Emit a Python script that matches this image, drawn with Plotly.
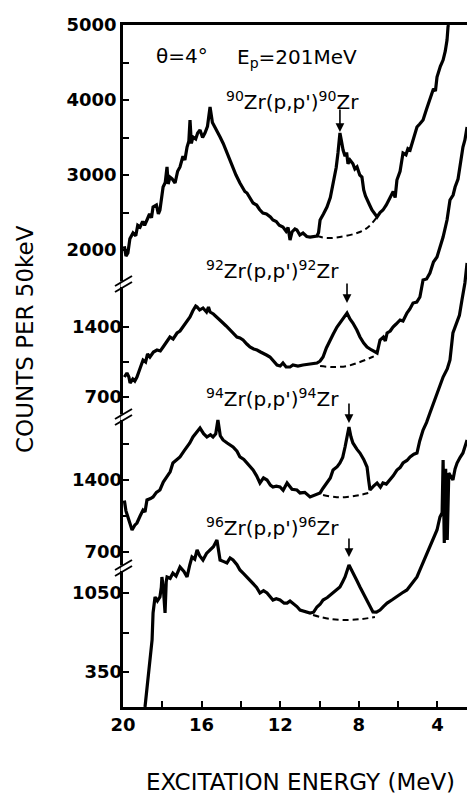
import plotly.graph_objects as go

# ---------------- data (excitation energy in MeV, counts per 50 keV) ----------------
e90 = [19.93, 19.85, 19.75, 19.65, 19.49, 19.35, 19.25, 19.13, 19.00, 18.90, 18.78, 18.65,
       18.55, 18.47, 18.30, 18.20, 18.12, 18.05, 17.96, 17.85, 17.76, 17.70, 17.61, 17.50,
       17.35, 17.22, 17.10, 16.95, 16.85, 16.74, 16.65, 16.59, 16.52, 16.44, 16.30, 16.20,
       16.08, 15.95, 15.83, 15.70, 15.62, 15.57, 15.45, 15.32, 15.20, 15.06, 14.90, 14.71,
       14.55, 14.40, 14.25, 14.05, 13.90, 13.80, 13.69, 13.50, 13.38, 13.20, 13.05, 12.88,
       12.70, 12.50, 12.37, 12.20, 12.05, 11.86, 11.70, 11.60, 11.50, 11.40, 11.25, 11.15,
       11.00, 10.84, 10.65, 10.48, 10.30, 10.13, 10.05, 9.97, 9.80, 9.62, 9.45, 9.31, 9.15,
       9.06, 8.96, 8.88, 8.80, 8.70, 8.62, 8.55, 8.45, 8.30, 8.20, 8.09, 7.95, 7.84, 7.75,
       7.66, 7.58, 7.45, 7.33, 7.20, 7.07, 6.92, 6.77, 6.60, 6.41, 6.25, 6.15, 6.06, 5.90,
       5.75, 5.60, 5.50, 5.39, 5.20, 5.04, 4.90, 4.73, 4.55, 4.38, 4.20, 4.10, 4.02, 3.85,
       3.71, 3.60, 3.51, 3.46, 3.44]
c90 = [2050, 1920, 1960, 2150, 2227, 2190, 2330, 2307, 2380, 2330, 2400, 2480,
       2430, 2573, 2600, 2480, 2533, 2700, 2840, 2900, 3107, 2880, 2973, 2950,
       2893, 3050, 3107, 3250, 3200, 3373, 3450, 3733, 3420, 3507, 3480, 3560,
       3600, 3500, 3560, 3650, 3780, 3907, 3700, 3640, 3580, 3507, 3420, 3293,
       3200, 3107, 3000, 2893, 2830, 2780, 2760, 2680, 2627, 2600, 2540, 2493,
       2480, 2440, 2400, 2380, 2330, 2307, 2250, 2300, 2133, 2240, 2280, 2267,
       2200, 2227, 2180, 2173, 2180, 2187, 2230, 2400, 2480, 2573, 2700, 2893, 3100,
       3293, 3560, 3450, 3333, 3250, 3300, 3150, 3200, 3150, 3080, 3107, 3000, 2973, 2800,
       2720, 2667, 2600, 2533, 2480, 2440, 2500, 2533, 2600, 2707, 2780, 2700, 2933, 3050,
       3293, 3270, 3350, 3333, 3500, 3640, 3680, 3733, 3880, 4000, 4150, 4120, 4307, 4450,
       4533, 4650, 4800, 4973, 5000]
bg90_e = [10.13, 9.62, 8.96, 8.09, 7.58, 7.07]
bg90_c = [2187, 2160, 2173, 2227, 2293, 2440]

e92 = [19.93, 19.80, 19.70, 19.64, 19.50, 19.40, 19.29, 19.15, 18.98, 18.85, 18.75, 18.63,
       18.45, 18.27, 18.10, 17.96, 17.80, 17.61, 17.45, 17.25, 17.10, 16.95, 16.80, 16.59,
       16.45, 16.30, 16.23, 16.10, 15.93, 15.75, 15.65, 15.57, 15.40, 15.22, 15.05, 14.91,
       14.75, 14.55, 14.40, 14.20, 14.05, 13.89, 13.70, 13.54, 13.35, 13.18, 13.00, 12.88,
       12.70, 12.52, 12.35, 12.16, 12.00, 11.86, 11.70, 11.50, 11.35, 11.10, 10.84, 10.50,
       10.13, 9.97, 9.82, 9.65, 9.47, 9.30, 9.11, 8.90, 8.75, 8.60, 8.45, 8.30, 8.10, 7.94,
       7.75, 7.58, 7.35, 7.07, 6.92, 6.75, 6.65, 6.56, 6.40, 6.26, 6.10, 5.90, 5.75, 5.55,
       5.40, 5.24, 5.05, 4.89, 4.73, 4.55, 4.38, 4.20, 4.02, 3.85, 3.71, 3.51, 3.36, 3.20,
       3.10, 2.95, 2.85, 2.70, 2.60, 2.49]
c92 = [900, 940, 900, 840, 880, 860, 900, 980, 1070, 1050, 1130, 1100,
       1150, 1170, 1160, 1200, 1250, 1300, 1280, 1340, 1360, 1400, 1450, 1500,
       1560, 1610, 1600, 1570, 1590, 1550, 1600, 1550, 1530, 1500, 1470, 1440,
       1410, 1370, 1340, 1300, 1290, 1270, 1230, 1200, 1180, 1170, 1150, 1140,
       1120, 1100, 1060, 1020, 1010, 1040, 1000, 1000, 1020, 1010, 1020, 1030,
       1040, 1060, 1100, 1190, 1270, 1330, 1400, 1460, 1510, 1540, 1480, 1440, 1370, 1300,
       1240, 1200, 1170, 1140, 1270, 1300, 1260, 1340, 1360, 1400, 1430, 1470, 1460, 1540,
       1580, 1640, 1650, 1700, 1870, 1880, 1940, 2050, 2100, 2200, 2300, 2470, 2670, 2720,
       2800, 2880, 3000, 3200, 3270, 3400]
bg92_e = [9.97, 9.31, 8.60, 7.94, 7.43, 7.07]
bg92_c = [1010, 1000, 1010, 1050, 1090, 1120]

e94 = [19.93, 19.85, 19.75, 19.62, 19.54, 19.40, 19.29, 19.13, 18.98, 18.88, 18.78, 18.60,
       18.47, 18.30, 18.12, 17.95, 17.76, 17.60, 17.46, 17.30, 17.10, 16.90, 16.74, 16.60,
       16.44, 16.25, 16.08, 15.90, 15.73, 15.55, 15.42, 15.28, 15.17, 15.05, 14.91, 14.70,
       14.55, 14.40, 14.20, 14.05, 13.85, 13.69, 13.50, 13.38, 13.20, 13.03, 12.85, 12.67,
       12.50, 12.37, 12.20, 12.01, 11.85, 11.65, 11.40, 11.15, 10.99, 10.75, 10.48, 10.20,
       9.97, 9.82, 9.62, 9.45, 9.31, 9.10, 8.96, 8.82, 8.70, 8.60, 8.50, 8.40, 8.30, 8.10,
       7.94, 7.75, 7.58, 7.50, 7.43, 7.25, 7.07, 6.90, 6.77, 6.60, 6.41, 6.25, 6.06, 5.90,
       5.75, 5.55, 5.39, 5.20, 5.04, 4.90, 4.73, 4.55, 4.38, 4.20, 4.02, 3.85, 3.71, 3.50,
       3.36, 3.21, 3.00, 2.88, 2.75, 2.60, 2.49]
c94 = [1200, 1100, 1040, 950, 914, 960, 982, 1050, 1108, 1090, 1206, 1220,
       1235, 1280, 1303, 1380, 1429, 1480, 1565, 1590, 1624, 1680, 1721, 1760,
       1818, 1870, 1905, 1850, 1818, 1840, 1818, 1850, 1983, 1830, 1789, 1760,
       1740, 1721, 1680, 1624, 1600, 1565, 1520, 1497, 1440, 1371, 1420, 1400,
       1350, 1332, 1340, 1332, 1300, 1371, 1310, 1303, 1274, 1280, 1235, 1260,
       1274, 1320, 1371, 1420, 1497, 1530, 1565, 1620, 1721, 1830, 1915, 1820, 1760, 1700,
       1662, 1600, 1526, 1400, 1303, 1340, 1371, 1330, 1371, 1360, 1400, 1440, 1497, 1520,
       1565, 1590, 1624, 1650, 1662, 1780, 1886, 1960, 2051, 2150, 2246, 2330, 2401, 2480,
       2566, 2829, 2926, 3000, 3150, 3315, 3509]
bg94_e = [9.82, 9.21, 8.60, 7.94, 7.33]
bg94_c = [1254, 1235, 1235, 1254, 1283]

e96 = [18.88, 18.73, 18.60, 18.52, 18.47, 18.40, 18.37, 18.25, 18.12, 18.05, 18.02, 17.95,
       17.86, 17.80, 17.76, 17.60, 17.46, 17.30, 17.10, 16.90, 16.74, 16.60, 16.49, 16.35,
       16.23, 16.10, 15.93, 15.75, 15.57, 15.40, 15.22, 15.12, 15.06, 14.90, 14.71, 14.55,
       14.40, 14.20, 14.05, 13.85, 13.69, 13.50, 13.38, 13.20, 13.03, 12.85, 12.67, 12.50,
       12.37, 12.20, 12.01, 11.80, 11.65, 11.50, 11.35, 11.15, 10.99, 10.75, 10.48, 10.30,
       10.13, 9.97, 9.82, 9.60, 9.45, 9.31, 9.15, 8.96, 8.82, 8.70, 8.50, 8.40, 8.30, 8.10,
       7.94, 7.75, 7.58, 7.40, 7.28, 7.10, 6.92, 6.75, 6.56, 6.30, 6.06, 5.80, 5.55, 5.30,
       5.04, 4.90, 4.73, 4.55, 4.38, 4.20, 4.02, 3.87, 3.76, 3.71, 3.65, 3.58, 3.50, 3.42,
       3.30, 3.21, 3.10, 3.00, 2.85, 2.70, 2.49]
c96 = [40, 306, 500, 634, 873, 950, 1015, 980, 1015, 1100, 1192, 1100,
       873, 1150, 1192, 1180, 1227, 1200, 1280, 1240, 1192, 1300, 1369, 1350,
       1431, 1380, 1342, 1400, 1431, 1460, 1519, 1400, 1342, 1330, 1316, 1360,
       1342, 1300, 1254, 1220, 1192, 1160, 1139, 1100, 1050, 1070, 1050, 1010,
       988, 1000, 988, 960, 961, 980, 961, 930, 899, 890, 873, 880,
       926, 950, 988, 1010, 1030, 1050, 1070, 1103, 1150, 1192, 1298, 1260, 1227, 1160,
       1103, 1040, 988, 930, 882, 880, 899, 930, 961, 990, 1015, 1050, 1077, 1130,
       1192, 1250, 1316, 1390, 1457, 1530, 1608, 1723, 1760, 2228, 1493, 2150, 1520, 2113,
       2080, 2051, 2150, 2201, 2250, 2290, 2405]
bg96_e = [10.33, 9.47, 8.60, 7.84, 7.18]
bg96_c = [855, 820, 811, 820, 837]

x_ticks = [20, 16, 12, 8, 4]
x_minor = [18, 14, 10, 6]
p1_ticks = [2000, 3000, 4000, 5000]
p1_minor = [2500, 3500, 4500]
p2_ticks = [700, 1400]
p2_minor = [1050]
p3_ticks = [700, 1400]
p3_minor = [1050, 1750]
p4_ticks = [350, 1050]
p4_minor = [700]

labels = ["<sup>90</sup>Zr(p,p')<sup>90</sup>Zr", "<sup>92</sup>Zr(p,p')<sup>92</sup>Zr",
          "<sup>94</sup>Zr(p,p')<sup>94</sup>Zr", "<sup>96</sup>Zr(p,p')<sup>96</sup>Zr"]
peak_e = [8.96, 8.60, 8.50, 8.50]
peak_c = [3573, 1640, 1954, 1369]

# ---------------- layout geometry (pixels) ----------------
W, H = 467, 796
L, T, R, B = 123, 25, 0, 89
PW, PH = W - L - R, H - T - B


def px(xp):
    return (xp - L) / PW


def py(yp):
    return (H - B - yp) / PH


FONT = "DejaVu Sans"
fig = go.Figure()

series = [(e90, c90, bg90_e, bg90_c, "y"), (e92, c92, bg92_e, bg92_c, "y2"),
          (e94, c94, bg94_e, bg94_c, "y3"), (e96, c96, bg96_e, bg96_c, "y4")]
for e, c, be, bc, ax in series:
    fig.add_trace(go.Scatter(x=be, y=bc, yaxis=ax, mode="lines", line_shape="spline",
                             line=dict(color="black", width=2, dash="6px,4px"),
                             hoverinfo="skip", showlegend=False))
    fig.add_trace(go.Scatter(x=e, y=c, yaxis=ax, mode="lines",
                             line=dict(color="black", width=3.2),
                             showlegend=False))

tickfont = dict(family=FONT, size=18, color="black", weight="bold")


def yaxis(rng, tv, mv, line=False):
    return dict(range=rng, domain=[0, 1], tickmode="array", tickvals=tv,
                ticktext=[str(v) for v in tv], ticks="inside", ticklen=6, tickwidth=2,
                tickcolor="black", tickfont=tickfont, showgrid=False, zeroline=False,
                showline=line, linecolor="black", linewidth=2.5, anchor="x", side="left",
                minor=dict(tickmode="array", tickvals=mv, ticks="inside", ticklen=6,
                           tickwidth=2, tickcolor="black", showgrid=False))


ya1 = yaxis([5000 - PH / 0.075, 5000], p1_ticks, p1_minor, line=True)
ya2 = yaxis([1400 - (H - B - 327) * 10.0, 1400 + (327 - T) * 10.0], p2_ticks, p2_minor)
ya3 = yaxis([1400 - (H - B - 480) * 9.72, 1400 + (480 - T) * 9.72], p3_ticks, p3_minor)
ya4 = yaxis([1050 - (H - B - 593) * 8.857, 1050 + (593 - T) * 8.857], p4_ticks, p4_minor)
for a in (ya2, ya3, ya4):
    a["overlaying"] = "y"

xa = dict(range=[20, 20 - PW / 19.65], tickmode="array", tickvals=x_ticks,
          ticktext=[str(v) for v in x_ticks], ticks="inside", ticklen=6, tickwidth=2,
          tickcolor="black", tickfont=tickfont, showgrid=False, zeroline=False,
          showline=True, linecolor="black", linewidth=2.5, mirror=True,
          minor=dict(tickmode="array", tickvals=x_minor, ticks="inside", ticklen=6,
                     tickwidth=2, tickcolor="black", showgrid=False))

ann = []
txt = dict(family=FONT, size=20, color="black")
ann.append(dict(xref="paper", yref="paper", x=px(182), y=py(56), text="θ=4°",
                showarrow=False, font=txt, xanchor="center", yanchor="middle"))
ann.append(dict(xref="paper", yref="paper", x=px(297), y=py(58), text="E<sub>p</sub>=201MeV",
                showarrow=False, font=txt, xanchor="center", yanchor="middle"))
lab_pos = [(292, 101), (272, 270), (272, 398), (272, 527)]
for (lx, ly), t in zip(lab_pos, labels):
    ann.append(dict(xref="paper", yref="paper", x=px(lx), y=py(ly), text=t,
                    showarrow=False, font=txt, xanchor="center", yanchor="middle"))
for e, c, ax, ay in zip(peak_e, peak_c, ["y", "y2", "y3", "y4"], [-24, -21, -21, -20]):
    ann.append(dict(xref="x", yref=ax, x=e, y=c, text="", showarrow=True, ax=0, ay=ay,
                    arrowhead=2, arrowsize=1.1, arrowwidth=1.6, arrowcolor="black"))
ann.append(dict(xref="paper", yref="paper", x=px(25), y=py(339), text="COUNTS PER 50keV",
                textangle=-90, showarrow=False, xanchor="center", yanchor="middle",
                font=dict(family=FONT, size=23, color="black")))
ann.append(dict(xref="paper", yref="paper", x=px(300), y=py(782),
                text="EXCITATION ENERGY (MeV)", showarrow=False, xanchor="center",
                yanchor="middle", font=dict(family=FONT, size=23, color="black")))

shapes = []
for yc in (284, 417, 568):
    shapes.append(dict(type="line", xref="paper", yref="paper", x0=px(L), x1=px(L),
                       y0=py(yc - 3), y1=py(yc + 3), line=dict(color="white", width=5),
                       layer="above"))
    for d in (-3, 3):
        shapes.append(dict(type="line", xref="paper", yref="paper", x0=px(115), x1=px(132),
                           y0=py(yc + 5 + d), y1=py(yc - 5 + d),
                           line=dict(color="black", width=2), layer="above"))

fig.update_layout(width=W, height=H, margin=dict(l=L, r=R, t=T, b=B),
                  paper_bgcolor="white", plot_bgcolor="white", showlegend=False,
                  xaxis=xa, yaxis=ya1, yaxis2=ya2, yaxis3=ya3, yaxis4=ya4,
                  annotations=ann, shapes=shapes)

fig.write_html("out.html", config={"displayModeBar": False},
               post_script="document.body.style.margin='0';document.body.style.padding='0';"
                           "document.documentElement.style.overflow='hidden';"
                           "document.body.style.overflow='hidden';")
